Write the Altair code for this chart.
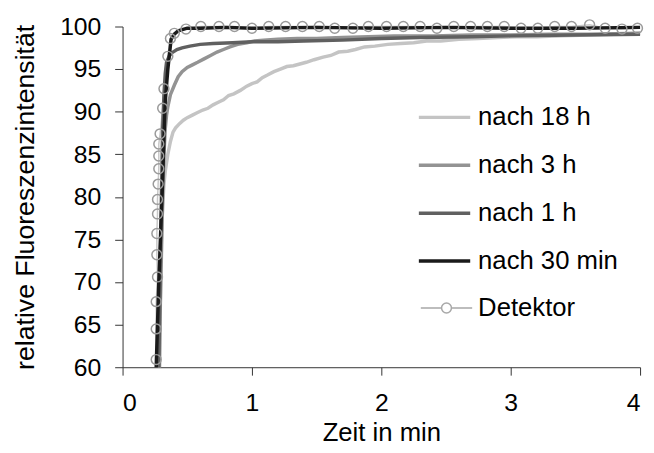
import altair as alt
import pandas as pd

# ---- data ----
series_names = ["nach 18 h", "nach 3 h", "nach 1 h", "nach 30 min"]
series_colors = ["#c4c4c4", "#939393", "#606060", "#1a1a1a"]

x18 = [0.285, 0.29, 0.295, 0.30, 0.31, 0.32, 0.33, 0.35, 0.37, 0.39, 0.41, 0.44, 0.47, 0.50, 0.54, 0.58,
       0.62, 0.66, 0.70, 0.74, 0.78, 0.82, 0.86, 0.91, 0.96, 1.00, 1.04, 1.08, 1.12, 1.17, 1.22, 1.27,
       1.32, 1.37, 1.42, 1.48, 1.55, 1.61, 1.67, 1.74, 1.80, 1.87, 1.95, 2.05, 2.15, 2.25, 2.35, 2.46,
       2.60, 2.75, 2.90, 3.05, 3.2, 3.4, 3.6, 3.8, 4.0]
y18 = [60, 66, 71, 75, 79, 81.5, 83, 85, 86.5, 87.6, 88.1, 88.6, 89.0, 89.3, 89.6, 89.9,
       90.2, 90.4, 90.8, 91.1, 91.4, 91.9, 92.1, 92.5, 93.0, 93.3, 93.5, 94.0, 94.3, 94.7, 95.0, 95.3,
       95.4, 95.6, 95.8, 96.1, 96.4, 96.6, 97.0, 97.1, 97.3, 97.6, 97.7, 97.9, 98.0, 98.1, 98.3, 98.3,
       98.5, 98.6, 98.7, 98.8, 98.8, 98.9, 99.0, 99.1, 99.2]

x3 = [0.285, 0.29, 0.30, 0.31, 0.32, 0.33, 0.34, 0.35, 0.37, 0.40, 0.43, 0.46, 0.50, 0.54, 0.58, 0.63,
      0.68, 0.73, 0.78, 0.83, 0.89, 0.96, 1.02, 1.09, 1.2, 1.35, 1.5, 1.7, 1.9, 2.1, 2.4, 2.7,
      3.0, 3.3, 3.6, 4.0]
y3 = [60, 66, 73, 80, 85, 88, 89.6, 90.6, 92.0, 93.1, 94.1, 94.7, 95.2, 95.5, 95.8, 96.2,
      96.6, 97.0, 97.3, 97.6, 97.9, 98.1, 98.3, 98.4, 98.5, 98.6, 98.6, 98.7, 98.8, 98.9, 98.9, 99.0,
      99.0, 99.1, 99.1, 99.2]

x1 = [0.28, 0.29, 0.30, 0.31, 0.32, 0.33, 0.34, 0.36, 0.38, 0.42, 0.46, 0.52, 0.60, 0.70, 0.85, 1.0,
      1.2, 1.4, 1.7, 2.0, 2.3, 2.7, 3.0, 3.5, 4.0]
y1 = [60, 70, 80, 88, 92, 94.5, 95.8, 96.5, 96.9, 97.3, 97.5, 97.7, 97.9, 98.0, 98.1, 98.2,
      98.2, 98.3, 98.4, 98.6, 98.7, 98.8, 98.9, 99.0, 99.1]

x30 = [0.26, 0.28, 0.30, 0.31, 0.32, 0.33, 0.35, 0.375, 0.40, 0.43, 0.50, 0.6, 0.8, 1.0, 1.5, 2.0,
       2.5, 3.0, 3.5, 4.0]
y30 = [60, 70, 78, 82, 87, 91.2, 95, 98.5, 99.1, 99.5, 99.8, 99.8, 99.9, 99.8, 99.9, 99.8,
       99.9, 99.8, 99.8, 99.9]

det_name = "Detektor"
xd = [0.26, 0.26, 0.26, 0.27, 0.265, 0.265, 0.27, 0.27, 0.275, 0.28, 0.28, 0.28, 0.29, 0.31, 0.32, 0.35,
      0.37, 0.40, 0.49, 0.605, 0.745, 0.865, 1.0, 1.13, 1.26, 1.39, 1.52, 1.64, 1.78, 1.90, 2.04, 2.17,
      2.30, 2.43, 2.56, 2.69, 2.82, 2.95, 3.08, 3.21, 3.34, 3.47, 3.61, 3.73, 3.86, 3.98]
yd = [60.9, 64.5, 67.7, 70.6, 73.2, 75.7, 78.0, 79.7, 81.5, 83.3, 84.8, 86.2, 87.4, 90.4, 92.7, 96.5,
      98.6, 99.2, 99.7, 100, 100, 100, 99.8, 100, 100, 100, 100, 99.8, 99.8, 100, 100, 100,
      100, 99.8, 100, 100, 100, 100, 99.8, 99.8, 100, 100, 100.2, 99.8, 99.7, 99.8]

x_ticks = [0, 1, 2, 3, 4]
y_ticks = [60, 65, 70, 75, 80, 85, 90, 95, 100]
x_title = "Zeit in min"
y_title = "relative Fluoreszenzintensität"

# ---- tables ----
rows = []
for name, xs, ys in zip(series_names, [x18, x3, x1, x30], [y18, y3, y1, y30]):
    for i, (a, b) in enumerate(zip(xs, ys)):
        rows.append({"series": name, "x": a, "y": b, "i": i})
curves = pd.DataFrame(rows)
det = pd.DataFrame({"x": xd, "y": yd, "i": list(range(len(xd))), "det": [det_name] * len(xd)})

FONT = "Liberation Sans"

xenc = alt.X("x:Q", scale=alt.Scale(domain=[0, 4], nice=False),
             axis=alt.Axis(values=x_ticks, format="d", title=x_title, labelPadding=16,
                           titlePadding=4, titleFontSize=26))
yenc = alt.Y("y:Q", scale=alt.Scale(domain=[60, 100], nice=False, zero=False),
             axis=alt.Axis(values=y_ticks, format="d", title=y_title, labelPadding=14,
                           titlePadding=20, titleFontSize=27))

det_line = alt.Chart(det).mark_line(color="#c8c8c8", strokeWidth=1.5).encode(
    x=xenc, y=yenc, order="i:Q")

lines = alt.Chart(curves).mark_line(strokeWidth=3.5).encode(
    x=xenc, y=yenc, order="i:Q",
    color=alt.Color("series:N", sort=series_names,
                    scale=alt.Scale(domain=series_names, range=series_colors),
                    legend=alt.Legend(orient="none", legendX=298, legendY=64, title=None,
                                      symbolType="stroke", symbolSize=2704, symbolStrokeWidth=3.5,
                                      rowPadding=7.5, labelOffset=6, padding=0)))

det_pts = alt.Chart(det).mark_point(shape="circle", filled=False, color="#9a9a9a", strokeWidth=1.5,
                                    opacity=1).encode(
    x=xenc, y=yenc,
    size=alt.Size("det:N", scale=alt.Scale(type="ordinal", domain=[det_name], range=[100]),
                  legend=alt.Legend(orient="none", legendX=315, legendY=272, title=None,
                                    symbolType="M-5.2,0L-1,0M1,0L5.2,0M-1,0A1,1 0 1,1 1,0A1,1 0 1,1 -1,0",
                                    symbolStrokeColor="#a8a8a8", symbolFillColor="transparent",
                                    symbolStrokeWidth=1.5, labelOffset=19, padding=0)))

chart = alt.layer(det_line, lines, det_pts).properties(
    width=524, height=345,
    autosize=alt.AutoSizeParams(type="none"),
    padding={"left": 116, "top": 16, "right": 6, "bottom": 76},
).configure_view(stroke=None).configure_axis(
    grid=False, domainColor="#333333", tickColor="#333333", tickSize=8, domainWidth=1, tickWidth=1,
    labelFont=FONT, labelFontSize=25, labelColor="black",
    titleFont=FONT, titleColor="black", titleFontWeight="normal",
).configure_legend(
    labelFont=FONT, labelFontSize=26, labelColor="black", labelLimit=300,
)

chart.save("out.html", embed_options={"renderer": "svg", "actions": False})
